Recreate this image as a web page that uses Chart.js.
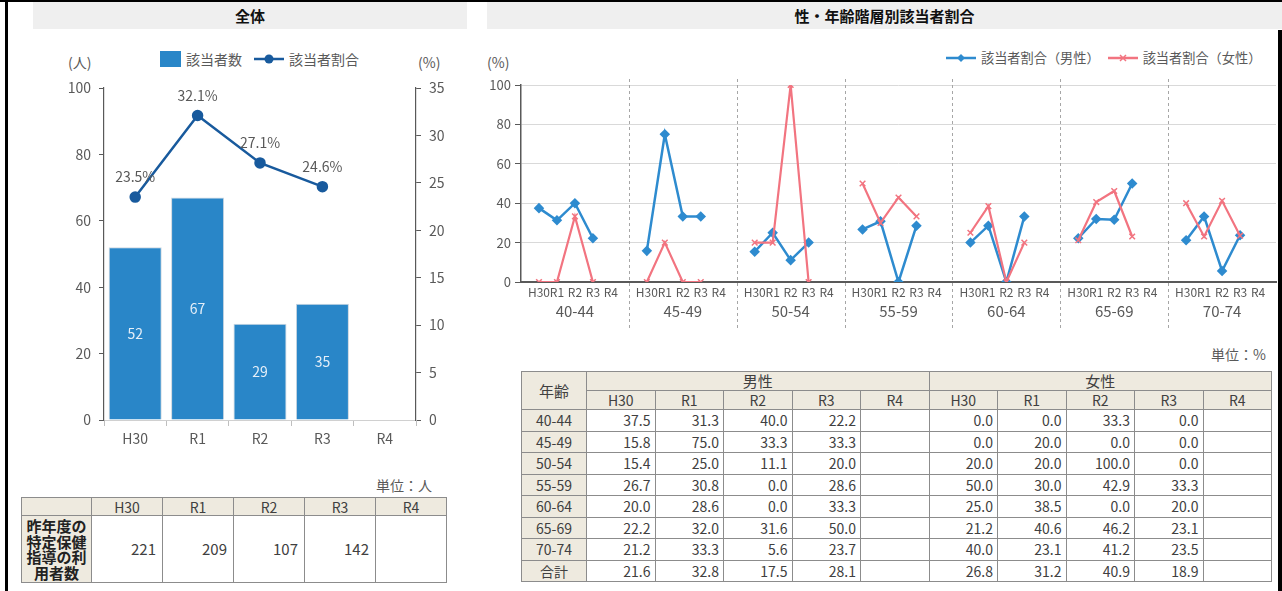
<!DOCTYPE html>
<html lang="ja">
<head>
<meta charset="utf-8">
<title>該当者割合</title>
<script src="https://cdn.jsdelivr.net/npm/chart.js@4.4.1/dist/chart.umd.min.js"></script>
<style>
  body { margin: 0; background: #fff; font-family: "Noto Sans CJK JP", "Noto Sans", sans-serif; color: #404040; }
  #page { position: relative; width: 1282px; height: 591px; overflow: hidden; }
  .abs { position: absolute; white-space: nowrap; }
  .titlebar { position: absolute; top: 2px; height: 27px; line-height: 27px; background: #efefef;
              font-weight: bold; font-size: 15px; color: #111; text-align: center; }
  .unit { font-size: 14px; color: #595959; }
  .unit.r { text-align: right; width: 100px; }
  .legend { position: absolute; display: flex; align-items: center; font-size: 14px; color: #595959; }
  .legend svg { margin-right: 5px; }
  .legend span.txt { margin-right: 12px; }
  .legend.small { font-size: 13.2px; }
  .legend.small span.txt { margin-right: 8px; }
  table.data { position: absolute; border-collapse: collapse; table-layout: fixed; font-size: 14px; color: #404040; }
  table.data th, table.data td { border: 1px solid #8c8c8c; padding: 0 4px; font-weight: normal; overflow: hidden;
                                 line-height: 16px; white-space: nowrap; }
  table.data th { background: #eeeadf; text-align: center; }
  table.data td { text-align: right; }
  canvas { position: absolute; }
</style>
</head>
<body>
<div id="page">
  <div class="abs" style="left:0;top:0;width:1282px;height:2px;background:#000"></div>
  <div class="abs" style="left:5px;top:0;width:3px;height:591px;background:#000"></div>
  <div class="abs" style="left:1278px;top:30px;width:4px;height:561px;background:#000"></div>

  <div class="titlebar" style="left:33px;width:434px">全体</div>
  <div class="titlebar" style="left:487px;width:795px">性・年齢階層別該当者割合</div>

  <div class="abs unit" style="left:68px;top:52px">(人)</div>
  <div class="abs unit" style="left:418px;top:52px">(%)</div>
  <div class="legend" style="left:160px;top:49px">
    <svg width="21" height="16"><rect x="0" y="0" width="21" height="16" fill="#2986c8"/></svg>
    <span class="txt">該当者数</span>
    <svg width="30" height="12"><line x1="0" y1="6" x2="30" y2="6" stroke="#185a9d" stroke-width="2.5"/><circle cx="15" cy="6" r="4.5" fill="#185a9d"/></svg>
    <span>該当者割合</span>
  </div>
  <canvas id="totalChart" style="left:40px;top:70px" width="430" height="390"></canvas>

  <div class="abs unit r" style="left:332px;top:475px">単位：人</div>
  <table class="data" id="usersTable" style="left:21px;top:497px;width:425px"></table>

  <div class="abs unit" style="left:487px;top:52px">(%)</div>
  <div class="legend small" style="left:946px;top:48px">
    <svg width="30" height="12"><line x1="0" y1="6" x2="30" y2="6" stroke="#2e8bcf" stroke-width="2.5"/><polygon points="15,2 19,6 15,10 11,6" fill="#2e8bcf"/></svg>
    <span class="txt">該当者割合（男性）</span>
    <svg width="30" height="12"><line x1="0" y1="6" x2="30" y2="6" stroke="#f27480" stroke-width="2.5"/><path d="M12 3 L18 9 M18 3 L12 9" stroke="#f27480" stroke-width="1.5"/></svg>
    <span>該当者割合（女性）</span>
  </div>
  <canvas id="ageChart" style="left:480px;top:70px" width="802" height="270"></canvas>

  <div class="abs unit r" style="left:1166px;top:344px">単位：%</div>
  <table class="data" id="ageTable" style="left:521px;top:371px;width:750px"></table>
</div>

<script>
const FONT = '"Noto Sans CJK JP", "Noto Sans", sans-serif';
Chart.defaults.font.family = FONT;
Chart.defaults.color = "#595959";

// 全体
const years = ["H30", "R1", "R2", "R3", "R4"];
const targetCounts = [52, 67, 29, 35, null];
const targetRates = [23.5, 32.1, 27.1, 24.6, null];
const guidanceUsers = [221, 209, 107, 142, null];

// 性・年齢階層別
const ageGroups = ["40-44", "45-49", "50-54", "55-59", "60-64", "65-69", "70-74"];
const maleRates = [
    [37.5, 31.3, 40.0, 22.2, null],
    [15.8, 75.0, 33.3, 33.3, null],
    [15.4, 25.0, 11.1, 20.0, null],
    [26.7, 30.8, 0.0, 28.6, null],
    [20.0, 28.6, 0.0, 33.3, null],
    [22.2, 32.0, 31.6, 50.0, null],
    [21.2, 33.3, 5.6, 23.7, null]
];
const femaleRates = [
    [0.0, 0.0, 33.3, 0.0, null],
    [0.0, 20.0, 0.0, 0.0, null],
    [20.0, 20.0, 100.0, 0.0, null],
    [50.0, 30.0, 42.9, 33.3, null],
    [25.0, 38.5, 0.0, 20.0, null],
    [21.2, 40.6, 46.2, 23.1, null],
    [40.0, 23.1, 41.2, 23.5, null]
];
const maleTotal = [21.6, 32.8, 17.5, 28.1, null];
const femaleTotal = [26.8, 31.2, 40.9, 18.9, null];

// draws value labels for datasets that carry a valueLabel setting
const valueLabels = {
    id: "valueLabels",
    afterDatasetsDraw(chart) {
        const ctx = chart.ctx;
        chart.data.datasets.forEach((ds, i) => {
            if (!ds.valueLabel) return;
            const meta = chart.getDatasetMeta(i);
            meta.data.forEach((el, j) => {
                const v = ds.data[j];
                if (v === null || v === undefined) return;
                const y = meta.type === "bar" ? (el.y + el.base) / 2 : el.y - ds.valueLabel.offset;
                ctx.save();
                ctx.font = "14px " + FONT;
                ctx.fillStyle = ds.valueLabel.color;
                ctx.textAlign = "center";
                ctx.textBaseline = "middle";
                ctx.fillText(ds.valueLabel.format(v), el.x, y);
                ctx.restore();
            });
        });
    }
};

// dashed separators between the age groups
const groupDividers = {
    id: "groupDividers",
    afterDraw(chart) {
        const scale = chart.scales.x;
        const labels = chart.data.labels;
        const ctx = chart.ctx;
        ctx.save();
        ctx.strokeStyle = "#a6a6a6";
        ctx.lineWidth = 1;
        ctx.setLineDash([3, 3]);
        labels.forEach((lab, i) => {
            if (lab !== "" || i === 0 || i === labels.length - 1) return;
            const x = Math.round(scale.getPixelForValue(i)) + 0.5;
            ctx.beginPath();
            ctx.moveTo(x, chart.chartArea.top - 6);
            ctx.lineTo(x, chart.height - 10);
            ctx.stroke();
        });
        ctx.restore();
    }
};

function renderTotalChart() {
    const ctx = document.getElementById("totalChart").getContext("2d");

    new Chart(ctx, {
        type: "bar",
        data: {
            labels: years,
            datasets: [{
                type: "line",
                label: "該当者割合",
                data: targetRates,
                yAxisID: "y1",
                borderColor: "#185a9d",
                backgroundColor: "#185a9d",
                borderWidth: 2.5,
                pointRadius: 4.5,
                pointHoverRadius: 4.5,
                tension: 0,
                order: 0,
                valueLabel: { color: "#595959", offset: 20, format: (v) => v.toFixed(1) + "%" }
            }, {
                label: "該当者数",
                data: targetCounts,
                yAxisID: "y",
                backgroundColor: "#2986c8",
                borderColor: "#cdd6df",
                borderWidth: 1,
                barPercentage: 0.85,
                categoryPercentage: 1,
                order: 1,
                valueLabel: { color: "#e4eef8", format: (v) => String(v) }
            }]
        },
        options: {
            responsive: false,
            animation: false,
            layout: { padding: { top: 18, left: 0, right: 0, bottom: 0 } },
            plugins: { legend: { display: false }, tooltip: { enabled: false } },
            scales: {
                x: {
                    grid: { display: true, drawOnChartArea: false, offset: true, tickLength: 6, color: "#bfbfbf" },
                    border: { color: "#d0d0d0" },
                    ticks: { font: { size: 14 }, padding: 4 },
                    afterFit: (s) => { s.height = 40; }
                },
                y: {
                    position: "left",
                    min: 0,
                    max: 100,
                    ticks: { stepSize: 20, font: { size: 14 }, padding: 8 },
                    grid: { drawOnChartArea: false, tickLength: 5, color: "#595959" },
                    border: { color: "#595959", width: 1.2 },
                    afterFit: (s) => { s.width = 64; }
                },
                y1: {
                    position: "right",
                    min: 0,
                    max: 35,
                    ticks: { stepSize: 5, font: { size: 14 }, padding: 8 },
                    grid: { drawOnChartArea: false, tickLength: 5, color: "#595959" },
                    border: { color: "#595959", width: 1.2 },
                    afterFit: (s) => { s.width = 54; }
                }
            }
        },
        plugins: [valueLabels]
    });
}

function renderAgeChart() {
    const labels = [];
    const maleSeries = [];
    const femaleSeries = [];
    ageGroups.forEach((g, gi) => {
        labels.push("");
        maleSeries.push(null);
        femaleSeries.push(null);
        years.forEach((y, yi) => {
            labels.push(y);
            maleSeries.push(maleRates[gi][yi]);
            femaleSeries.push(femaleRates[gi][yi]);
        });
    });
    labels.push("");
    maleSeries.push(null);
    femaleSeries.push(null);

    const ctx = document.getElementById("ageChart").getContext("2d");

    new Chart(ctx, {
        type: "line",
        data: {
            labels: labels,
            datasets: [{
                label: "該当者割合（男性）",
                data: maleSeries,
                borderColor: "#2e8bcf",
                backgroundColor: "#2e8bcf",
                borderWidth: 2.5,
                pointStyle: "rectRot",
                pointRadius: 3.5,
                pointHoverRadius: 3.5,
                tension: 0,
                spanGaps: false,
                order: 1
            }, {
                label: "該当者割合（女性）",
                data: femaleSeries,
                borderColor: "#f27480",
                backgroundColor: "#f27480",
                borderWidth: 2.2,
                pointStyle: "crossRot",
                pointRadius: 4,
                pointHoverRadius: 4,
                pointBorderWidth: 1.5,
                tension: 0,
                spanGaps: false,
                order: 0
            }]
        },
        options: {
            responsive: false,
            animation: false,
            layout: { padding: { top: 15, left: 0, right: 5, bottom: 0 } },
            plugins: { legend: { display: false }, tooltip: { enabled: false } },
            scales: {
                x: {
                    weight: 0,
                    grid: { display: false, drawTicks: false },
                    border: { color: "#595959", width: 2 },
                    ticks: { autoSkip: false, maxRotation: 0, font: { size: 12 }, padding: 3 },
                    afterFit: (s) => { s.height = 20; }
                },
                xg: {
                    type: "category",
                    position: "bottom",
                    weight: 1,
                    labels: ageGroups,
                    offset: true,
                    grid: { display: false, drawTicks: false },
                    border: { display: false },
                    ticks: { font: { size: 15 }, padding: 0 },
                    afterFit: (s) => { s.height = 38; }
                },
                y: {
                    min: 0,
                    max: 100,
                    ticks: { stepSize: 20, font: { size: 13 }, padding: 4 },
                    grid: { color: "#d9d9d9", tickColor: "#595959", tickLength: 6 },
                    border: { color: "#595959", width: 1.5 },
                    afterFit: (s) => { s.width = 41; }
                }
            }
        },
        plugins: [groupDividers]
    });
}

function fmt(v) {
    return v === null || v === undefined ? "" : v.toFixed(1);
}

function buildUsersTable() {
    const table = document.getElementById("usersTable");
    let html = "<colgroup><col style='width:70px'>";
    years.forEach(() => { html += "<col style='width:71px'>"; });
    html += "</colgroup>";
    html += "<tr style='height:18px'><th></th>";
    years.forEach((y) => { html += "<th>" + y + "</th>"; });
    html += "</tr><tr style='height:67px'>";
    html += "<th style='font-weight:bold;font-size:15px;line-height:15.5px;color:#222;padding:0;white-space:normal'>昨年度の<br>特定保健<br>指導の利<br>用者数</th>";
    guidanceUsers.forEach((v) => {
        html += "<td style='font-size:15px;padding-right:6px'>" + (v === null ? "" : v) + "</td>";
    });
    html += "</tr>";
    table.innerHTML = html;
}

function buildAgeTable() {
    const table = document.getElementById("ageTable");
    let html = "<colgroup><col style='width:65px'>";
    for (let i = 0; i < years.length * 2; i++) html += "<col style='width:68.5px'>";
    html += "</colgroup>";
    html += "<tr style='height:19px'><th rowspan='2' style='font-size:15px'>年齢</th>";
    html += "<th colspan='5' style='font-size:15px'>男性</th><th colspan='5' style='font-size:15px'>女性</th></tr>";
    html += "<tr style='height:19px'>";
    years.concat(years).forEach((y) => { html += "<th>" + y + "</th>"; });
    html += "</tr>";

    const rows = ageGroups.map((g, gi) => [g, maleRates[gi], femaleRates[gi]]);
    rows.push(["合計", maleTotal, femaleTotal]);
    rows.forEach(([name, m, f]) => {
        html += "<tr style='height:21.5px'><th>" + name + "</th>";
        m.concat(f).forEach((v) => { html += "<td>" + fmt(v) + "</td>"; });
        html += "</tr>";
    });
    table.innerHTML = html;
}

document.addEventListener("DOMContentLoaded", () => {
    renderTotalChart();
    renderAgeChart();
    buildUsersTable();
    buildAgeTable();
});
</script>
</body>
</html>
